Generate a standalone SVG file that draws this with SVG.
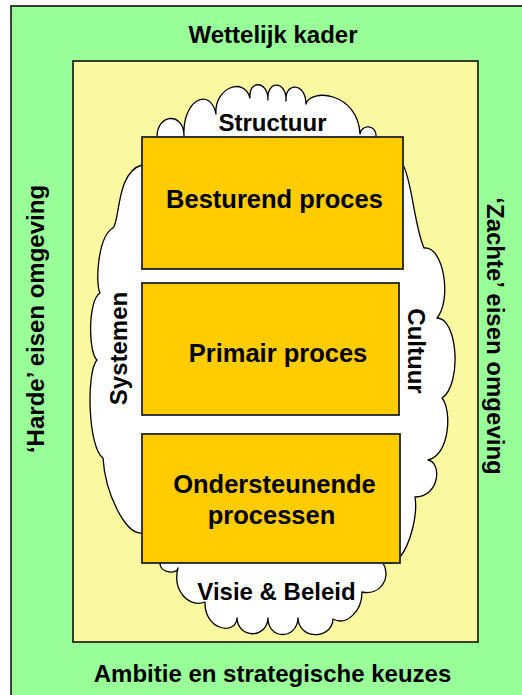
<svg xmlns="http://www.w3.org/2000/svg" width="522" height="695" viewBox="0 0 522 695">
  <style>
    .lbl { font-family: "Liberation Sans", Arial, Helvetica, sans-serif; font-weight: bold; fill: #000; text-anchor: middle; }
    .t24 { font-size: 24px; }
    .t25 { font-size: 25.5px; }
    .frame { stroke: #111; stroke-width: 1.6; }
    .proc { fill: #FFCC00; stroke: #222; stroke-width: 1.8; }
    .cloud { fill: #FFFFFF; stroke: #000; stroke-width: 1.3; stroke-linejoin: round; }
  </style>

  <!-- outer frame: legal context -->
  <g id="wettelijk-kader">
    <rect class="frame" x="11" y="6" width="525" height="700" fill="#99FF99"/>
    <text class="lbl t24" x="273" y="43">Wettelijk kader</text>
    <text class="lbl t24" x="272.5" y="682">Ambitie en strategische keuzes</text>
    <text class="lbl t24" transform="translate(44,319) rotate(-90)">‘Harde’ eisen omgeving</text>
    <text class="lbl t24" transform="translate(487,336) rotate(90)">‘Zachte’ eisen omgeving</text>
  </g>

  <!-- inner frame -->
  <g id="organisatie">
    <rect class="frame" x="73" y="61" width="405" height="581" fill="#FAF8A0"/>
  </g>

  <!-- cloud of organisational aspects -->
  <g id="aspecten">
    <path class="cloud" d="M150,150 L157,137
      C157,113 184,112 184,136
      C182,100 210,86 216,114
      C214,88 244,76 250,98
      C248,80 268,80 268,100
      C266,80 287,80 286,101
      C284,82 306,82 306,104
      C310,88 358,92 360,134
      C361,124 377,124 376,137
      L395,150 L403,165
      C412,180 414,225 424,248
      C444,246 452,300 437,318
      C458,318 462,385 442,398
      C452,410 450,455 428,460
      C442,462 440,497 415,497
      C418,515 410,545 400,557
      L392,563 L383,563
      C392,578 380,596 362,592
      C362,612 346,626 333,619
      C332,640 299,640 298,618
      C297,640 268,640 268,618
      C267,639 238,639 237,618
      C236,636 204,630 205,602
      C190,608 172,592 178,568
      C178,574 160,574 160,563
      L150,550 L142,533
      C125,535 105,492 103,458
      C88,448 86,372 97,360
      C88,352 88,300 100,293
      C95,283 98,236 113,228
      C120,222 116,172 142,165
      L150,150 Z"/>
    <text class="lbl t24" x="272.5" y="131">Structuur</text>
    <text class="lbl t24" transform="translate(127,348.5) rotate(-90)">Systemen</text>
    <text class="lbl t24" transform="translate(408,351) rotate(90)">Cultuur</text>
  </g>

  <!-- process blocks -->
  <g id="besturend-proces">
    <rect class="proc" x="142" y="137" width="261" height="132" stroke="#111"/>
    <text class="lbl t25" x="274.5" y="208">Besturend proces</text>
  </g>
  <g id="primair-proces">
    <rect class="proc" x="142" y="283" width="257" height="132" stroke="#333"/>
    <text class="lbl t25" x="278" y="362">Primair proces</text>
  </g>
  <g id="ondersteunende-processen">
    <rect class="proc" x="142" y="434" width="258" height="129" stroke="#333"/>
    <text class="lbl t25" x="274.5" y="493">Ondersteunende</text>
    <text class="lbl t25" x="271.5" y="524">processen</text>
  </g>

  <g id="visie">
    <text class="lbl t24" x="276.5" y="600">Visie &amp; Beleid</text>
  </g>

  <!-- no connectors in this figure -->
  <g id="connectors"/>
</svg>
